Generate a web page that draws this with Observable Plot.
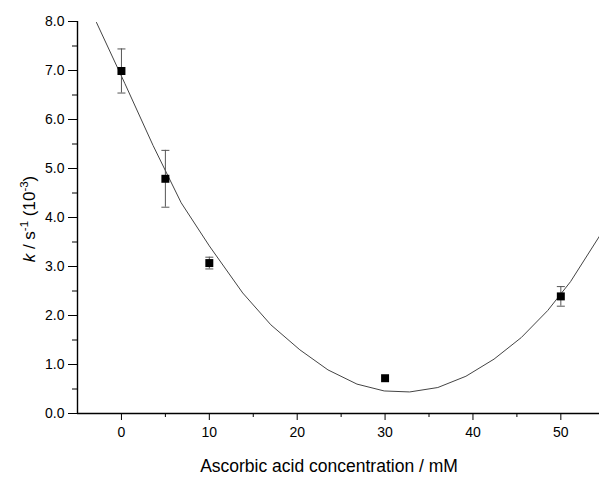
<!DOCTYPE html>
<html>
<head>
<meta charset="utf-8">
<script src="https://cdn.jsdelivr.net/npm/d3@7"></script>
<script src="https://cdn.jsdelivr.net/npm/@observablehq/plot@0.6"></script>
<style>
  html, body { margin: 0; padding: 0; background: #fff; }
  #chart svg { display: block; }
</style>
</head>
<body>
<div id="chart"></div>
<script>
// Measured data points
const concentration = [0, 5, 10, 30, 50];
const rate = [6.99, 4.79, 3.07, 0.72, 2.39];
const rateErr = [0.45, 0.58, 0.12, 0, 0.2];

// Fitted curve
const curveX = [-2.84, 0.4, 3.6, 6.8, 10.0, 13.8, 17.0, 20.3, 23.5, 26.8, 29.9, 32.8, 36.0, 39.2, 42.4, 45.5, 48.5, 51.1, 54.4];
const curveY = [7.98, 6.73, 5.47, 4.3, 3.42, 2.46, 1.81, 1.30, 0.89, 0.60, 0.46, 0.44, 0.53, 0.76, 1.11, 1.55, 2.10, 2.69, 3.62];

// Tick values
const xTicks = [0, 10, 20, 30, 40, 50];
const xMinor = [5, 15, 25, 35, 45];
const yTicks = [0, 1, 2, 3, 4, 5, 6, 7, 8];
const yMinor = [0.5, 1.5, 2.5, 3.5, 4.5, 5.5, 6.5, 7.5];

const points = concentration.map((c, i) => ({x: c, y: rate[i], lo: rate[i] - rateErr[i], hi: rate[i] + rateErr[i], err: rateErr[i]}));
const errPoints = points.filter(d => d.err > 0);
const curve = curveX.map((x, i) => ({x, y: curveY[i]}));

const capSymbol = {
  draw(context, size) {
    context.moveTo(-4, 0);
    context.lineTo(4, 0);
  }
};

const svg = Plot.plot({
  width: 599,
  height: 479,
  marginLeft: 77,
  marginRight: 0,
  marginTop: 21,
  marginBottom: 66,
  style: {fontFamily: "'Liberation Sans', Arial, sans-serif", fontSize: "14px", color: "#000", background: "#fff"},
  x: {domain: [-5, 54.4]},
  y: {domain: [0, 8]},
  marks: [
    Plot.axisX(xTicks, {tickSize: 7, tickPadding: 7, fontSize: 14, label: null, stroke: "#000"}),
    Plot.axisX(xMinor, {tickSize: 4, tickFormat: () => "", label: null, stroke: "#000"}),
    Plot.axisY(yTicks, {tickSize: 9, tickPadding: 4, fontSize: 14, tickFormat: d3.format(".1f"), label: null, stroke: "#000"}),
    Plot.axisY(yMinor, {tickSize: 5, tickFormat: () => "", label: null, stroke: "#000"}),
    Plot.ruleY([0], {stroke: "#000", strokeWidth: 1.4}),
    Plot.ruleX([-5], {stroke: "#000", strokeWidth: 1.4}),
    Plot.line(curve, {x: "x", y: "y", stroke: "#444", strokeWidth: 1, clip: true}),
    Plot.ruleX(errPoints, {x: "x", y1: "lo", y2: "hi", stroke: "#555", strokeWidth: 1}),
    Plot.dot(errPoints, {x: "x", y: "hi", symbol: capSymbol, stroke: "#555", fill: "none", strokeWidth: 1}),
    Plot.dot(errPoints, {x: "x", y: "lo", symbol: capSymbol, stroke: "#555", fill: "none", strokeWidth: 1}),
    Plot.dot(points, {x: "x", y: "y", symbol: "square", r: 4.5, fill: "#000", stroke: "none"})
  ]
});

const s = d3.select(svg);
s.append("text")
  .attr("x", 329)
  .attr("y", 472)
  .attr("text-anchor", "middle")
  .attr("font-size", 17.5)
  .attr("fill", "#000")
  .text("Ascorbic acid concentration / mM");

const yl = s.append("text")
  .attr("transform", "translate(35,219) rotate(-90)")
  .attr("text-anchor", "middle")
  .attr("font-size", 17)
  .attr("fill", "#000");
yl.append("tspan").attr("font-style", "italic").text("k");
yl.append("tspan").text(" / s");
yl.append("tspan").attr("font-size", 11.5).attr("dy", -7).text("-1");
yl.append("tspan").attr("dy", 7).text(" (10");
yl.append("tspan").attr("font-size", 11.5).attr("dy", -7).text("-3");
yl.append("tspan").attr("dy", 7).text(")");

document.getElementById("chart").appendChild(svg);
</script>
</body>
</html>
